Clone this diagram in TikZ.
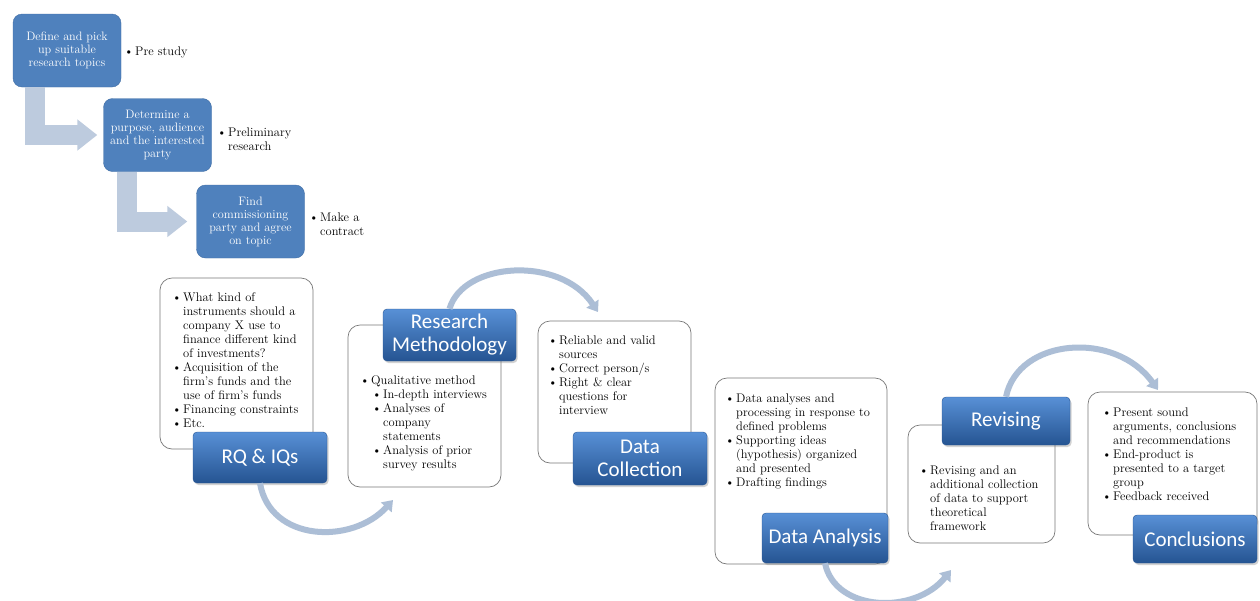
\documentclass[tikz,border=0pt]{standalone}
\usepackage{fontspec}
\newfontfamily\labelfont{Carlito}
\usepackage{tikz}
\usetikzlibrary{calc,shapes,arrows.meta,shadows}
\definecolor{stepblue}{RGB}{79,129,189}
\definecolor{stepline}{RGB}{66,111,166}
\definecolor{bentgray}{RGB}{189,203,222}
\definecolor{arcgray}{RGB}{172,190,214}
\definecolor{labeltop}{RGB}{88,144,214}
\definecolor{labelbot}{RGB}{37,84,146}
\definecolor{labelline}{RGB}{40,86,148}
\definecolor{boxline}{RGB}{120,120,120}
\tikzstyle{stepbox}=[rectangle,rounded corners=9pt,fill=stepblue,draw=stepline,
                     text=white,align=center,font=\fontsize{12.2}{13}\selectfont,
                     inner sep=0pt,minimum width=108pt,minimum height=73pt]
\tikzstyle{whitebox}=[rectangle,rounded corners=12pt,draw=boxline,line width=0.7pt,
                      fill=white,inner sep=0pt]
\tikzstyle{labelbox}=[rectangle,rounded corners=4pt,top color=labeltop,bottom color=labelbot,
                      draw=labelline,text=white,align=center,inner sep=0pt,
                      font=\labelfont\fontsize{21}{23}\selectfont,
                      drop shadow={opacity=0.35,shadow xshift=1.5pt,shadow yshift=-2pt}]
\tikzstyle{bullettext}=[anchor=north west,inner sep=0pt,text width=175pt,
                        font=\fontsize{12.5}{14}\selectfont]
\tikzstyle{bentarrow}=[draw=bentgray,line width=20pt,-{Triangle[width=30pt,length=20pt]}]
\tikzstyle{arcarrow}=[draw=arcgray,line width=6pt,-{Triangle[width=14pt,length=10pt]}]
\newcommand\bul[2][0pt]{\par\noindent\hangindent=\dimexpr#1+11pt\relax\hangafter=1
  \hspace*{#1}\makebox[11pt][l]{\textbullet}#2\par}
\newcommand\brk{\hfil\break}

\begin{document}
\begin{tikzpicture}[x=1pt,y=-1pt]
    \path [use as bounding box,fill=white] (0,0) rectangle (1260,600);
    % pre study steps
    \node [stepbox] (Define) at (67,50.5) {Define and pick\\up suitable\\research topics};
    \node [stepbox] (Determine) at (157.5,135) {Determine a\\purpose, audience\\and the interested\\party};
    \node [stepbox] (Find) at (250.5,221.5) {Find\\commissioning\\party and agree\\on topic};
    \node [bullettext,anchor=west,text width=90pt] (PreStudy) at (124,50) {\bul{Pre study}};
    \node [bullettext,anchor=west,text width=90pt] (Preliminary) at (217,136.5) {\bul{Preliminary\brk research}};
    \node [bullettext,anchor=west,text width=90pt] (Contract) at (309,221.5) {\bul{Make a\brk contract}};
    \draw [bentarrow,shorten >=6pt] ([xshift=-32pt]Define.south) |- (Determine.west);
    \draw [bentarrow,shorten >=9pt] ([xshift=-30.5pt]Determine.south) |- (Find.west);

    % research process
    \node [whitebox,minimum width=153pt,minimum height=171pt] (RQBox) at (236.5,363.5) {};
    \node [bullettext] (RQText) at (172,287) {
        \bul{What kind of\brk instruments should a\brk company X use to\brk finance different kind\brk of investments?}
        \bul{Acquisition of the\brk firm’s funds and the\brk use of firm’s funds}
        \bul{Financing constraints}
        \bul{Etc.}
    };
    \node [labelbox,minimum width=134pt,minimum height=51pt] (RQ) at (260,457.5) {RQ \& IQs};

    \node [whitebox,minimum width=153pt,minimum height=162pt] (MethodBox) at (424.5,406) {};
    \node [bullettext] (MethodText) at (360,370) {
        \bul{Qualitative method}
        \bul[12pt]{In-depth interviews}
        \bul[12pt]{Analyses of\brk company\brk statements}
        \bul[12pt]{Analysis of prior\brk survey results}
    };
    \node [labelbox,minimum width=133pt,minimum height=52pt] (Method) at (449.5,335) {Research\\Methodology};

    \node [whitebox,minimum width=153pt,minimum height=142pt] (CollectionBox) at (614.5,392) {};
    \node [bullettext] (CollectionText) at (548,330) {
        \bul{Reliable and valid\brk sources}
        \bul{Correct person/s}
        \bul{Right \& clear\brk questions for\brk interview}
    };
    \node [labelbox,minimum width=134pt,minimum height=53pt] (Collection) at (640,458.5) {Data\\Collection};

    \node [whitebox,minimum width=172pt,minimum height=186pt] (AnalysisBox) at (801,471) {};
    \node [bullettext] (AnalysisText) at (725,388) {
        \bul{Data analyses and\brk processing in response to\brk defined problems}
        \bul{Supporting ideas\brk (hypothesis) organized\brk and presented}
        \bul{Drafting findings}
    };
    \node [labelbox,minimum width=126pt,minimum height=50pt] (Analysis) at (825,538) {Data Analysis};

    \node [whitebox,minimum width=147pt,minimum height=118pt] (RevisingBox) at (981.5,484) {};
    \node [bullettext] (RevisingText) at (919,460) {
        \bul{Revising and an\brk additional collection\brk of data to support\brk theoretical\brk framework}
    };
    \node [labelbox,minimum width=128pt,minimum height=48pt] (Revising) at (1006,421) {Revising};

    \node [whitebox,minimum width=169pt,minimum height=143pt] (ConclusionsBox) at (1172.5,463.5) {};
    \node [bullettext] (ConclusionsText) at (1102,402) {
        \bul{Present sound\brk arguments, conclusions\brk and recommendations}
        \bul{End-product is\brk presented to a target\brk group}
        \bul{Feedback received}
    };
    \node [labelbox,minimum width=124pt,minimum height=48pt] (Conclusions) at (1195,539) {Conclusions};

    % curved arrows
    \coordinate (RQEnd) at (393,500);
    \coordinate (MethodEnd) at (598,312);
    \coordinate (AnalysisEnd) at (951,570);
    \coordinate (RevisingEnd) at (1158,390);
    \draw [arcarrow] (RQ.south) .. controls (270,542) and (352,545) .. (RQEnd);
    \draw [arcarrow] (Method.north) .. controls (463,262) and (560,255) .. (MethodEnd);
    \draw [arcarrow] (Analysis.south) .. controls (835,612) and (915,615) .. (AnalysisEnd);
    \draw [arcarrow] (Revising.north) .. controls (1018,338) and (1115,330) .. (RevisingEnd);
\end{tikzpicture}
\end{document}
